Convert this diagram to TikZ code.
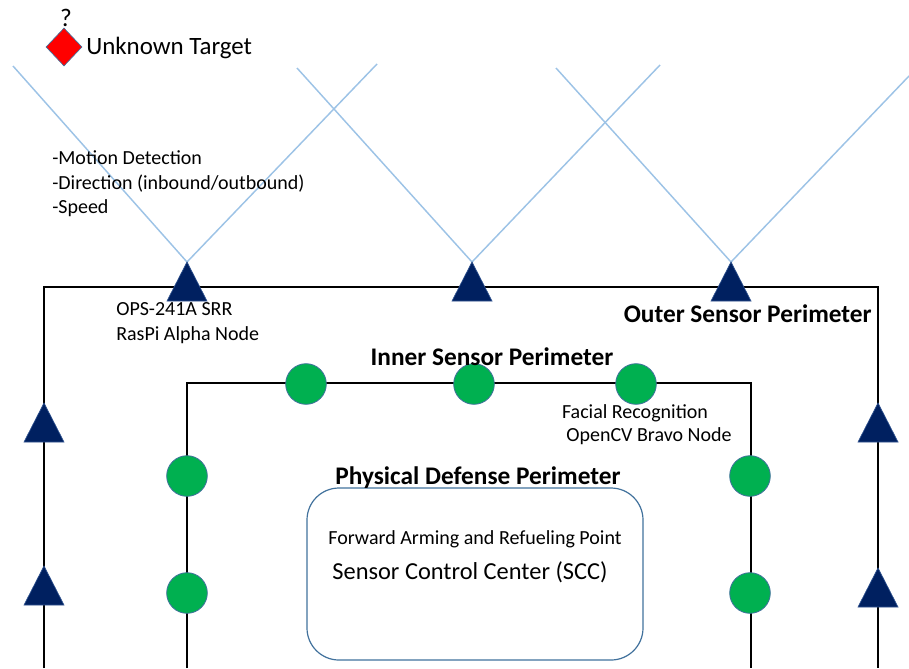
\documentclass[tikz,border=0pt]{standalone}
\usepackage{fontspec}
\setmainfont{Carlito}
\usetikzlibrary{shapes.geometric}
\definecolor{navy}{HTML}{002060}
\definecolor{navyedge}{HTML}{2F528F}
\definecolor{sgreen}{HTML}{00B050}
\definecolor{edgeblue}{HTML}{41719C}
\definecolor{beam}{HTML}{9DC3E6}
\tikzset{
  beamline/.style={draw=beam, line width=1.1pt},
  perim/.style={draw=black, line width=1pt},
  radar/.style={fill=navy, draw=navyedge, line width=0.5pt, line join=miter},
  camnode/.style={circle, fill=sgreen, draw=edgeblue, line width=0.6pt, minimum size=30.5pt, inner sep=0pt},
  txt/.style={inner sep=0pt, font=\fontsize{15}{18.4}\selectfont},
  bigtxt/.style={inner sep=0pt, font=\fontsize{19}{22}\selectfont\bfseries},
}
\begin{document}
\begin{tikzpicture}[x=0.75pt,y=-0.75pt]
\useasboundingbox (0,0) rectangle (909,668);
% beams
\coordinate (a1) at (187,262); \coordinate (a2) at (472,262); \coordinate (a3) at (731,262);
\coordinate (l1) at (13,66); \coordinate (r1) at (377,64);
\coordinate (l2) at (297,68); \coordinate (r2) at (660,65);
\coordinate (l3) at (556,68); \coordinate (r3) at (909,76);
\draw[beamline] (l1) -- (a1) -- (r1);
\draw[beamline] (l2) -- (a2) -- (r2);
\draw[beamline] (l3) -- (a3) -- (r3);
% perimeters
\coordinate (o1) at (44,668); \coordinate (o2) at (44,287); \coordinate (o3) at (878,287); \coordinate (o4) at (878,668);
\draw[perim] (o1) -- (o2) -- (o3) -- (o4);
\coordinate (i1) at (187,668); \coordinate (i2) at (187,383); \coordinate (i3) at (751,383); \coordinate (i4) at (751,668);
\draw[perim] (i1) -- (i2) -- (i3) -- (i4);
% radar triangles
\foreach \x/\y in {187/262, 472/262, 731/262, 44/403, 44/566, 878/403, 878/568}{
  \draw[radar] (\x,\y) -- ({\x+20},{\y+39}) -- ({\x-20},{\y+39}) -- cycle;
}
% camera nodes
\node[camnode] (c1) at (306,384) {};
\node[camnode] (c2) at (474,384) {};
\node[camnode] (c3) at (636,384) {};
\node[camnode] (c4) at (187,476) {};
\node[camnode] (c5) at (187,593) {};
\node[camnode] (c6) at (750,476) {};
\node[camnode] (c7) at (750,593) {};
% SCC box
\node[draw=edgeblue, line width=0.9pt, rounded corners=24pt, minimum width=252pt, minimum height=129pt, inner sep=0pt] (scc) at (475,574) {};
% target
\node[diamond, fill=red, draw=edgeblue, line width=0.5pt, inner sep=0pt, minimum width=27pt, minimum height=28.5pt] (tgt) at (64,47) {};
\node[inner sep=0pt, font=\fontsize{19}{22}\selectfont] (q) at (66,18) {?};
\node[inner sep=0pt, anchor=west, font=\fontsize{18.7}{22}\selectfont] (tgtlbl) at (86,48) {Unknown Target};
% labels
\node[txt, anchor=west, align=left] (caps) at (52,184) {-Motion Detection\\-Direction (inbound/outbound)\\-Speed};
\node[txt, anchor=west, align=left] (alpha) at (116,323) {OPS-241A SRR\\RasPi Alpha Node};
\node[bigtxt, anchor=east] (outer) at (872,314) {Outer Sensor Perimeter};
\node[bigtxt] (inner) at (492,357) {Inner Sensor Perimeter};
\node[txt] (fr) at (635,413) {Facial Recognition};
\node[txt] (bravo) at (649,436) {OpenCV Bravo Node};
\node[bigtxt] (phys) at (478,478) {Physical Defense Perimeter};
\node[txt] (farp) at (475,539) {Forward Arming and Refueling Point};
\node[inner sep=0pt, font=\fontsize{18.3}{22}\selectfont] (scctxt) at (470,572) {Sensor Control Center (SCC)};
\end{tikzpicture}
\end{document}
